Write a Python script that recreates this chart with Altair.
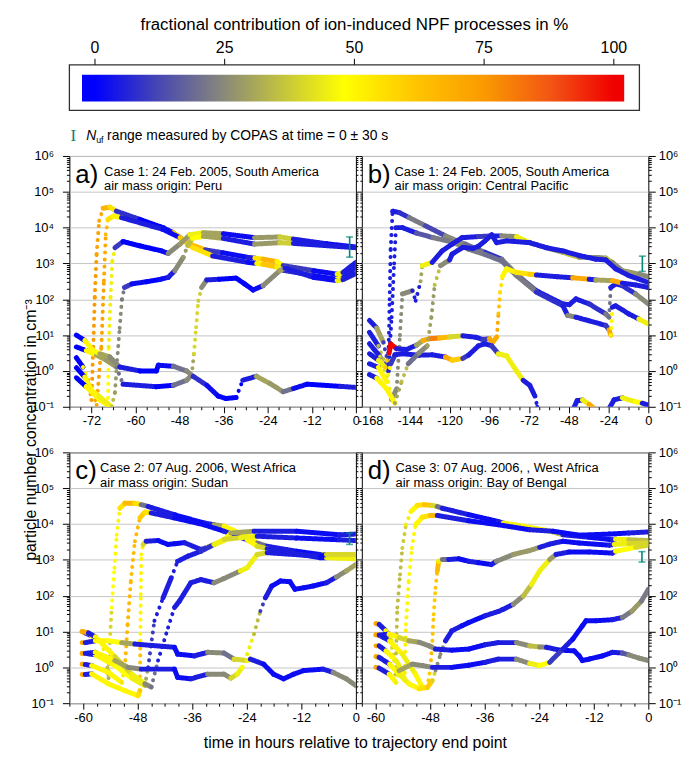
import altair as alt
import pandas as pd

# ---------------------------------------------------------------- colour ramp
# fractional contribution of ion-induced NPF processes (%)
PCT_STOPS = [0, 12, 25, 37, 48, 62, 75, 88, 100]
PCT_COLORS = ["#0000ff", "#4646b4", "#8a8a78", "#c8c83a", "#ffff00",
              "#ffc400", "#fa9a00", "#f25414", "#f00000"]
CBAR_TICKS = [0, 25, 50, 75, 100]
CBAR_DOMAIN = [-4.93, 104.93]
CBAR_SPAN = [-2.5, 102.0]

# ---------------------------------------------------------------- trajectories
# each point: (time in h, log10 N in cm^-3, ion-induced fraction in %)

# a) Case 1, air mass origin Peru
A1 = [(-76.1, 0.37, 0), (-74.3, 0.11, 50), (-72.9, -0.26, 72), (-72.0, -0.81, 75),
      (-71.5, 0.67, 75), (-71.1, 2.06, 75), (-70.6, 3.26, 72), (-69.9, 4.19, 70),
      (-68.8, 4.54, 68), (-67.0, 4.57, 55), (-65.2, 4.46, 8), (-58.8, 4.23, 0),
      (-52.5, 4.00, 2), (-49.7, 3.86, 60), (-45.2, 3.54, 65), (-41.0, 3.38, 10),
      (-36.3, 3.30, 2), (-29.4, 3.17, 5), (-27.5, 3.15, 55), (-25.3, 3.12, 68),
      (-21.5, 3.05, 50), (-19.8, 2.94, 10), (-11.5, 2.80, 2), (-5.1, 2.70, 45),
      (-3.5, 2.75, 5), (0.0, 3.03, 2)]
A2 = [(-76.1, 0.09, 0), (-73.8, -0.17, 50), (-71.5, -0.63, 70), (-70.6, -0.95, 72),
      (-69.3, 0.67, 72), (-68.6, 2.52, 70), (-68.1, 3.81, 65), (-67.5, 4.23, 55),
      (-66.1, 4.32, 50), (-63.8, 4.28, 5), (-52.5, 3.95, 2), (-47.9, 3.72, 60),
      (-44.3, 3.44, 55), (-39.0, 3.21, 5), (-29.4, 3.03, 2), (-27.0, 3.00, 50),
      (-25.3, 2.98, 62), (-21.5, 2.90, 45), (-19.8, 2.81, 8), (-11.5, 2.66, 2),
      (-5.1, 2.56, 48), (-3.5, 2.60, 5), (0.0, 2.89, 2)]
A3 = [(-76.1, -0.19, 0), (-73.4, -0.44, 50), (-69.7, -0.81, 50), (-67.5, -0.95, 48),
      (-67.3, 0.67, 45), (-66.8, 2.06, 45), (-66.3, 3.07, 45), (-65.6, 3.44, 10),
      (-63.4, 3.61, 0), (-58.8, 3.49, 0), (-52.9, 3.35, 2), (-51.1, 3.28, 25),
      (-47.9, 3.54, 28), (-45.2, 3.80, 45), (-41.5, 3.86, 30), (-36.1, 3.83, 2),
      (-27.6, 3.72, 28), (-20.7, 3.74, 38), (-17.0, 3.68, 5), (-8.0, 3.55, 2),
      (0.0, 3.46, 18)]
A4 = [(-73.4, -0.44, 50), (-70.0, -0.70, 45), (-66.5, -1.00, 35), (-65.6, -0.60, 28),
      (-65.0, 0.30, 25), (-64.3, 1.20, 25), (-63.7, 2.00, 22), (-63.0, 2.33, 10),
      (-61.0, 2.43, 2), (-57.0, 2.49, 0), (-53.5, 2.55, 2), (-51.1, 2.61, 5),
      (-49.3, 2.80, 25), (-47.0, 3.17, 28), (-45.8, 3.50, 35), (-44.5, 3.70, 48),
      (-41.5, 3.76, 30), (-36.1, 3.70, 5), (-27.6, 3.54, 28), (-20.7, 3.58, 38),
      (-17.0, 3.56, 5), (0.0, 3.44, 5)]
A5 = [(-76.1, 0.67, 0), (-73.4, 0.57, 50), (-70.6, 0.44, 30), (-67.9, 0.30, 28),
      (-65.2, 0.11, 20), (-63.4, -0.37, 5), (-54.3, -0.44, 0), (-49.7, -0.40, 20),
      (-46.1, -0.26, 25), (-44.7, -0.12, 30), (-44.1, 0.48, 40), (-43.5, 1.22, 40),
      (-42.9, 1.96, 38), (-42.0, 2.33, 25), (-40.6, 2.54, 5), (-37.2, 2.56, 0),
      (-32.6, 2.59, 0), (-30.3, 2.43, 0), (-28.0, 2.26, 2), (-25.3, 2.38, 25),
      (-20.7, 2.80, 30), (-19.3, 2.87, 5), (-11.5, 2.61, 2), (-5.1, 2.52, 45),
      (-3.5, 2.55, 5), (0.0, 2.72, 2)]
A6 = [(-76.1, 1.00, 0), (-73.8, 0.85, 50), (-71.5, 0.57, 48), (-69.7, 0.48, 30),
      (-67.0, 0.39, 25), (-64.3, 0.11, 5), (-58.8, 0.00, 0), (-54.3, 0.00, 0),
      (-53.8, 0.16, 2), (-49.7, 0.13, 20), (-46.1, 0.00, 25), (-44.3, -0.15, 8),
      (-40.6, -0.40, 2), (-37.5, -0.70, 0), (-35.4, -0.77, 0), (-32.6, -0.74, 0),
      (-30.8, -0.26, 5), (-27.1, -0.15, 30), (-23.4, -0.35, 28), (-19.8, -0.58, 20),
      (-17.0, -0.49, 2), (-13.3, -0.37, 0), (-4.2, -0.43, 5), (0.0, -0.46, 15)]

# b) Case 1, air mass origin Central Pacific
B1 = [(-168.4, 1.41, 5), (-164.0, 1.20, 30), (-160.0, 0.80, 10), (-157.5, 0.30, 5),
      (-156.8, 0.67, 5), (-156.2, 2.00, 5), (-155.6, 3.40, 5), (-154.4, 4.46, 5),
      (-150.4, 4.42, 8), (-144.4, 4.28, 22), (-134.5, 4.05, 12), (-122.5, 3.77, 25),
      (-110.5, 3.54, 20), (-98.6, 3.31, 8), (-88.6, 3.12, 22), (-79.6, 2.70, 18),
      (-67.6, 2.24, 5), (-51.6, 1.87, 5), (-47.7, 1.85, 5), (-43.7, 2.01, 5),
      (-35.7, 1.87, 8), (-25.7, 1.59, 22), (-23.7, 1.50, 20), (-22.7, 2.33, 5),
      (-19.7, 2.43, 5), (-15.7, 2.38, 8), (-7.7, 2.15, 25), (0.0, 1.87, 20)]
B2 = [(-168.4, 1.08, 5), (-163.0, 0.70, 35), (-159.0, 0.20, 15), (-157.0, 0.00, 5),
      (-155.0, 1.50, 5), (-153.5, 3.00, 5), (-152.4, 4.00, 5), (-148.5, 4.00, 5),
      (-140.0, 3.85, 15), (-130.0, 3.72, 22), (-118.5, 3.60, 25), (-108.6, 3.40, 22),
      (-98.6, 3.25, 20), (-88.6, 3.07, 20), (-79.6, 2.66, 22), (-67.6, 2.20, 8),
      (-51.6, 1.82, 5), (-48.7, 1.55, 25), (-43.7, 1.50, 5), (-35.7, 1.40, 5),
      (-25.7, 1.27, 10), (-23.7, 1.15, 70), (-22.7, 1.00, 50), (-21.7, 1.78, 5),
      (-19.7, 1.82, 5), (-11.7, 1.59, 5), (-5.7, 1.45, 45), (0.0, 1.31, 48)]
B3 = [(-168.4, 0.76, 5), (-162.0, 0.40, 40), (-157.0, -0.30, 45), (-155.0, -0.80, 25),
      (-152.0, -0.50, 25), (-150.0, 1.00, 25), (-148.5, 2.15, 25), (-142.5, 2.24, 5),
      (-140.5, 1.96, 5), (-137.5, 2.50, 30), (-136.5, 2.94, 45), (-130.5, 3.03, 5),
      (-124.5, 3.35, 5), (-118.5, 3.54, 5), (-112.5, 3.72, 5), (-102.6, 3.75, 10),
      (-94.6, 3.77, 5), (-88.6, 3.77, 25), (-79.6, 3.75, 45), (-71.6, 3.58, 25),
      (-61.6, 3.44, 28), (-51.6, 3.31, 35), (-41.7, 3.17, 25), (-31.7, 3.17, 25),
      (-25.7, 3.15, 35), (-21.7, 3.03, 25), (-15.7, 2.80, 28), (-5.7, 2.70, 25),
      (0.0, 2.63, 22)]
B4 = [(-168.4, 0.48, 5), (-163.0, 0.30, 45), (-159.0, 0.10, 60), (-156.5, 0.50, 100),
      (-155.5, 0.75, 100), (-152.0, 0.62, 5), (-146.0, 0.60, 5), (-140.0, 0.72, 30),
      (-136.0, 0.85, 70), (-132.0, 0.90, 80), (-126.0, 0.92, 65), (-120.0, 0.95, 40),
      (-112.0, 0.98, 5), (-104.0, 0.94, 5), (-100.0, 0.88, 10), (-96.0, 0.90, 70),
      (-94.0, 0.80, 70), (-91.5, 0.95, 70), (-90.5, 1.60, 62), (-89.5, 2.20, 55),
      (-88.0, 2.65, 50), (-85.6, 2.85, 50), (-79.6, 2.75, 55), (-71.6, 2.70, 60),
      (-67.6, 2.68, 5), (-55.0, 2.63, 5), (-45.7, 2.60, 70), (-35.7, 2.56, 5),
      (-31.7, 2.54, 30), (-21.7, 2.52, 70), (-15.7, 2.45, 5), (-7.7, 2.40, 5),
      (0.0, 2.33, 5)]
B5 = [(-168.4, 0.20, 5), (-163.0, 0.10, 50), (-158.0, -0.30, 50), (-155.5, 0.20, 10),
      (-153.0, 0.45, 5), (-148.5, 0.48, 5), (-138.5, 0.44, 5), (-130.5, 0.45, 5),
      (-122.5, 0.39, 70), (-118.5, 0.30, 60), (-112.0, 0.35, 10), (-108.6, 0.44, 5),
      (-102.6, 0.70, 5), (-98.6, 0.76, 5), (-94.6, 0.70, 10), (-90.6, 0.48, 45),
      (-85.6, 0.42, 45), (-79.6, 0.00, 45), (-75.6, -0.26, 5), (-71.6, -0.40, 5),
      (-68.5, -0.70, 5), (-67.0, -1.00, 5), (-64.0, -1.60, 5), (-48.0, -1.60, 5),
      (-45.7, -1.10, 5), (-43.0, -0.83, 5), (-39.7, -0.81, 45), (-35.7, -0.93, 70),
      (-32.7, -1.05, 70), (-30.0, -1.50, 5), (-26.0, -1.50, 5), (-23.7, -1.05, 5),
      (-20.7, -0.81, 5), (-15.7, -0.75, 45), (-7.7, -0.86, 48), (-3.7, -0.90, 5),
      (0.0, -0.95, 5)]
B6 = [(-168.4, -0.10, 5), (-164.0, -0.20, 50), (-158.0, -0.50, 50), (-153.0, -0.90, 30),
      (-149.0, -0.30, 35), (-145.0, 0.20, 20), (-138.5, 0.50, 25), (-133.5, 0.70, 30),
      (-131.0, 1.50, 28), (-129.0, 2.40, 35), (-125.5, 2.94, 25), (-120.0, 3.10, 5),
      (-118.5, 3.26, 5), (-112.0, 3.45, 5), (-106.0, 3.42, 5), (-102.6, 3.48, 5),
      (-98.6, 3.63, 5), (-94.6, 3.80, 5), (-91.6, 3.58, 5), (-85.6, 3.63, 5),
      (-71.6, 3.58, 5), (-61.6, 3.44, 5), (-51.6, 3.35, 5), (-41.7, 3.22, 5),
      (-31.7, 3.12, 5), (-25.7, 3.10, 5), (-19.7, 2.85, 5), (-11.7, 2.66, 5),
      (0.0, 2.47, 8)]

# c) Case 2, air mass origin Sudan
C1 = [(-60.2, 1.00, 70), (-59.5, 0.96, 5), (-58.1, 0.88, 50), (-55.9, 0.70, 45),
      (-54.8, 0.19, 35), (-54.4, -0.30, 32), (-54.1, 0.74, 40), (-53.7, 1.67, 48),
      (-53.1, 2.78, 50), (-52.6, 3.70, 50), (-51.9, 4.44, 55), (-50.8, 4.58, 65),
      (-48.6, 4.58, 55), (-47.2, 4.54, 20), (-45.7, 4.49, 5), (-39.9, 4.26, 2),
      (-33.4, 4.03, 5), (-31.2, 3.98, 30), (-29.0, 3.94, 50), (-23.9, 3.66, 50),
      (-21.7, 3.47, 20), (-19.5, 3.38, 5), (-13.0, 3.24, 2), (-7.9, 3.15, 5),
      (-7.2, 3.15, 40), (-3.6, 3.15, 30), (0.0, 3.10, 30)]
C2 = [(-60.2, 0.09, 70), (-59.5, 0.08, 5), (-58.1, 0.05, 50), (-54.4, -0.14, 50),
      (-51.5, -0.42, 55), (-50.8, 0.00, 65), (-50.2, 1.20, 65), (-49.5, 2.41, 65),
      (-48.6, 3.52, 65), (-47.5, 4.17, 60), (-46.4, 4.33, 55), (-45.0, 4.31, 5),
      (-39.9, 4.17, 2), (-33.4, 3.98, 2), (-29.0, 3.80, 5), (-23.9, 3.56, 50),
      (-21.7, 3.38, 40), (-19.5, 3.31, 5), (-7.9, 3.06, 2), (-6.5, 3.06, 45),
      (0.0, 3.03, 30)]
C3 = [(-60.2, -0.20, 70), (-59.5, -0.20, 5), (-58.1, -0.18, 50), (-54.4, -0.46, 50),
      (-50.8, -0.65, 50), (-47.9, -0.79, 55), (-47.5, -0.65, 62), (-47.4, 0.74, 50),
      (-47.3, 2.04, 50), (-47.2, 3.15, 50), (-46.8, 3.43, 40), (-46.1, 3.52, 5),
      (-43.5, 3.54, 2), (-41.3, 3.43, 2), (-39.9, 3.45, 2), (-37.7, 3.48, 5),
      (-34.1, 3.29, 8), (-32.6, 3.35, 45), (-29.0, 3.54, 50), (-27.5, 3.75, 30),
      (-22.4, 3.80, 5), (-13.0, 3.80, 2), (-3.6, 3.70, 5), (0.0, 3.72, 25)]
C4 = [(-60.2, 0.39, 70), (-59.5, 0.39, 5), (-57.3, 0.35, 50), (-53.0, 0.05, 48),
      (-49.3, -0.30, 45), (-46.4, -0.51, 30), (-45.7, 0.00, 10), (-44.3, 1.30, 5),
      (-42.4, 1.94, 5), (-40.6, 2.50, 5), (-39.2, 2.96, 5), (-37.0, 3.10, 5),
      (-34.1, 3.24, 8), (-31.2, 3.43, 45), (-29.0, 3.57, 40), (-25.4, 3.62, 45),
      (-21.7, 3.66, 5), (-13.0, 3.61, 2), (-3.6, 3.56, 5), (0.0, 3.54, 25)]
C5 = [(-60.2, 1.00, 70), (-58.8, 0.96, 5), (-57.3, 0.85, 50), (-53.0, 0.30, 40),
      (-49.3, -0.19, 45), (-46.4, -0.46, 25), (-45.0, -0.55, 20), (-43.5, 0.19, 5),
      (-41.3, 1.11, 5), (-39.9, 1.67, 5), (-38.8, 1.85, 5), (-36.3, 2.36, 5),
      (-34.1, 2.45, 5), (-31.2, 2.36, 25), (-29.0, 2.48, 25), (-25.4, 2.69, 45),
      (-23.9, 2.78, 45), (-21.7, 3.15, 40), (-19.5, 3.20, 5), (-7.9, 3.10, 2),
      (-6.5, 3.15, 40), (0.0, 3.15, 30)]
C6 = [(-60.2, 0.39, 70), (-59.5, 0.39, 5), (-57.3, 0.42, 50), (-53.0, 0.19, 30),
      (-50.1, 0.00, 25), (-47.2, -0.05, 5), (-39.9, -0.05, 2), (-39.2, -0.28, 2),
      (-36.3, -0.32, 5), (-32.6, -0.19, 25), (-29.0, -0.19, 25), (-27.5, -0.30, 40),
      (-26.1, -0.19, 45), (-25.0, 0.00, 48), (-23.9, 0.37, 45), (-22.4, 0.93, 35),
      (-21.0, 1.57, 10), (-19.9, 1.94, 5), (-18.5, 2.27, 2), (-16.6, 2.41, 2),
      (-14.5, 2.39, 2), (-13.4, 2.18, 2), (-11.5, 2.22, 2), (-9.4, 2.27, 2),
      (-6.5, 2.36, 5), (-4.3, 2.52, 25), (-2.1, 2.69, 30), (0.0, 2.87, 10)]
C7 = [(-60.2, 0.69, 70), (-59.5, 0.69, 5), (-57.3, 0.74, 50), (-54.4, 0.74, 48),
      (-51.5, 0.69, 30), (-48.6, 0.65, 5), (-39.9, 0.56, 2), (-39.2, 0.37, 2),
      (-35.5, 0.32, 5), (-32.6, 0.42, 25), (-29.0, 0.40, 20), (-26.8, 0.23, 40),
      (-23.9, 0.19, 45), (-23.2, 0.23, 5), (-20.3, 0.09, 2), (-18.1, -0.19, 2),
      (-15.9, -0.32, 2), (-13.7, -0.19, 2), (-11.5, -0.09, 2), (-7.2, -0.05, 5),
      (-5.0, -0.14, 25), (-2.1, -0.32, 25), (0.0, -0.51, 15)]

# d) Case 3, air mass origin Bay of Bengal
D1 = [(-59.9, 1.22, 70), (-59.2, 1.20, 5), (-57.7, 1.02, 50), (-56.6, 0.74, 40),
      (-55.9, 0.19, 35), (-55.6, -0.20, 35), (-55.4, 0.74, 35), (-55.2, 1.67, 35),
      (-54.6, 2.59, 35), (-54.1, 3.33, 38), (-53.3, 3.98, 45), (-52.2, 4.35, 50),
      (-50.8, 4.52, 55), (-49.3, 4.54, 62), (-47.5, 4.52, 40), (-46.4, 4.49, 20),
      (-45.3, 4.44, 5), (-39.5, 4.26, 2), (-33.0, 4.07, 5), (-31.9, 4.03, 45),
      (-27.5, 3.94, 50), (-23.2, 3.84, 50), (-21.0, 3.78, 35), (-18.8, 3.70, 5),
      (-13.0, 3.63, 2), (-7.9, 3.56, 5), (-7.2, 3.58, 45), (-4.3, 3.56, 35),
      (0.0, 3.54, 28)]
D2 = [(-59.9, 0.60, 70), (-59.2, 0.60, 5), (-57.7, 0.46, 50), (-55.5, 0.19, 45),
      (-54.1, -0.09, 50), (-53.6, -0.35, 52), (-53.3, 1.20, 50), (-52.7, 2.41, 50),
      (-52.0, 3.33, 50), (-51.2, 3.98, 50), (-49.7, 4.19, 55), (-47.9, 4.24, 65),
      (-46.4, 4.24, 5), (-39.5, 4.09, 2), (-33.0, 3.98, 2), (-26.1, 3.84, 5),
      (-21.0, 3.80, 2), (-15.2, 3.69, 2), (-8.6, 3.72, 2), (-4.3, 3.75, 5),
      (0.0, 3.78, 5)]
D3 = [(-59.9, 0.91, 70), (-59.2, 0.90, 5), (-56.9, 0.74, 50), (-54.1, 0.37, 45),
      (-51.2, -0.19, 50), (-49.7, -0.56, 55), (-48.6, -0.56, 60), (-47.9, 0.00, 65),
      (-47.5, 0.74, 62), (-47.2, 1.48, 60), (-46.8, 2.22, 62), (-46.4, 2.69, 65),
      (-46.1, 2.96, 45), (-45.3, 3.01, 20), (-43.9, 3.01, 5), (-41.7, 3.03, 2),
      (-39.5, 2.96, 5), (-37.3, 2.92, 2), (-34.5, 2.87, 5), (-33.4, 2.96, 25),
      (-29.7, 3.15, 28), (-26.1, 3.26, 28), (-23.9, 3.35, 5), (-21.7, 3.44, 5),
      (-18.8, 3.52, 2), (-15.2, 3.47, 2), (-8.6, 3.41, 5), (-7.5, 3.43, 45),
      (-4.3, 3.45, 40), (0.0, 3.47, 35)]
D4 = [(-59.9, 0.30, 70), (-59.2, 0.28, 5), (-56.9, 0.09, 50), (-54.8, -0.19, 45),
      (-52.6, -0.46, 50), (-50.4, -0.60, 55), (-48.6, -0.56, 60), (-47.5, -0.37, 40),
      (-46.8, -0.09, 25), (-45.7, 0.37, 25), (-44.6, 0.74, 5), (-43.2, 1.02, 5),
      (-41.0, 1.16, 2), (-39.5, 1.25, 2), (-35.9, 1.44, 5), (-33.0, 1.56, 5),
      (-31.9, 1.62, 5), (-29.7, 1.76, 25), (-27.5, 1.99, 35), (-25.7, 2.31, 45),
      (-23.9, 2.69, 45), (-21.7, 3.01, 28), (-20.3, 3.15, 5), (-17.4, 3.22, 2),
      (-13.0, 3.22, 2), (-7.9, 3.19, 5), (-7.2, 3.24, 48), (-2.8, 3.35, 40),
      (0.0, 3.41, 35)]
D5 = [(-59.9, 0.91, 70), (-59.2, 0.90, 5), (-57.0, 0.93, 50), (-54.8, 0.83, 40),
      (-52.6, 0.74, 30), (-50.4, 0.70, 25), (-48.2, 0.60, 25), (-46.8, 0.51, 5),
      (-43.2, 0.48, 2), (-39.5, 0.51, 2), (-35.9, 0.63, 5), (-33.0, 0.69, 5),
      (-29.0, 0.69, 25), (-26.1, 0.60, 35), (-23.9, 0.57, 25), (-22.4, 0.56, 5),
      (-19.5, 0.48, 2), (-16.3, 0.46, 2), (-15.2, 0.32, 2), (-14.5, 0.19, 2),
      (-13.0, 0.23, 2), (-10.1, 0.32, 2), (-7.9, 0.42, 5), (-5.7, 0.40, 15),
      (-4.3, 0.35, 25), (-2.1, 0.26, 25), (0.0, 0.19, 22)]
D6 = [(-59.9, 0.00, 70), (-59.2, -0.02, 5), (-57.0, -0.19, 50), (-55.5, -0.42, 45),
      (-54.8, -0.09, 30), (-51.9, 0.09, 25), (-49.7, 0.05, 25), (-47.5, 0.00, 5),
      (-43.2, 0.00, 2), (-39.5, 0.06, 2), (-35.9, 0.14, 5), (-33.0, 0.23, 5),
      (-29.0, 0.23, 25), (-26.1, 0.11, 45), (-23.9, 0.05, 48), (-21.7, 0.14, 10),
      (-18.8, 0.51, 5), (-16.6, 0.79, 2), (-14.5, 1.16, 2), (-13.7, 1.30, 2),
      (-11.5, 1.30, 2), (-7.9, 1.33, 5), (-5.7, 1.39, 22), (-3.6, 1.57, 28),
      (-1.5, 1.85, 22), (0.0, 2.18, 18)]

# COPAS N_uf range near time 0: (time in h, min, max) in cm^-3
BAR_A = (-1.7, 1.5e3, 5.5e3)
BAR_B = (-3.6, 6.0e2, 1.6e3)
BAR_C = (-1.4, 2.7e3, 5.6e3)
BAR_D = (-1.4, 8.7e2, 1.7e3)

PANEL_TEXT = {
    "a": ("a)", "Case 1: 24 Feb. 2005, South America", "air mass origin: Peru"),
    "b": ("b)", "Case 1: 24 Feb. 2005, South America", "air mass origin: Central Pacific"),
    "c": ("c)", "Case 2: 07 Aug. 2006, West Africa", "air mass origin: Sudan"),
    "d": ("d)", "Case 3: 07 Aug. 2006, , West Africa", "air mass origin: Bay of Bengal"),
}

# ---------------------------------------------------------------- layout
W, H = 289, 253
CB_W = 575
FONT = "Liberation Sans"
TEAL = "#00877a"

PANELS = {
    "a": dict(dom=[-78, 0], step=3, major=12, curves=[A1, A2, A3, A4, A5, A6],
              bar=BAR_A, yorient="left", text_dx=35),
    "b": dict(dom=[-173, 0], step=6, major=24, curves=[B1, B2, B3, B4, B5, B6],
              bar=BAR_B, yorient="right", text_dx=33),
    "c": dict(dom=[-63, 0], step=3, major=12, curves=[C1, C2, C3, C4, C5, C6, C7],
              bar=BAR_C, yorient="left", text_dx=31),
    "d": dict(dom=[-63, 0], step=3, major=12, curves=[D1, D2, D3, D4, D5, D6],
              bar=BAR_D, yorient="right", text_dx=34),
}

PX_PER_DECADE = H / 7.0

# segment table: one rule per pair of consecutive points, coloured by the first
seg_rows = []
for key, spec in PANELS.items():
    px_per_h = W / (spec["dom"][1] - spec["dom"][0])
    for ci, curve in enumerate(spec["curves"]):
        for i in range(len(curve) - 1):
            t0, g0, p0 = curve[i]
            t1, g1, p1 = curve[i + 1]
            dx = abs(t1 - t0) * px_per_h
            dy = abs(g1 - g0) * PX_PER_DECADE
            style = "dotted" if (dy > 2.5 * dx and dy > 10) else "solid"
            seg_rows.append(dict(panel=key, curve=ci, i=i, t=t0, t2=t1,
                                 n=10 ** g0, n2=10 ** g1, p=p0, style=style))
segs = pd.DataFrame(seg_rows)

color_scale = alt.Scale(domain=PCT_STOPS, range=PCT_COLORS, interpolate="rgb", clamp=True)

Y_TICKS = [m * 10.0 ** e for e in range(-1, 6) for m in range(1, 10)] + [1e6]
IS_DECADE = "abs(log(datum.value)/LN10 - round(log(datum.value)/LN10)) < 1e-6"
SUP = "['\u207b\u00b9','\u2070','\u00b9','\u00b2','\u00b3','\u2074','\u2075','\u2076']"
Y_LABEL = f"({IS_DECADE}) ? '10' + {SUP}[round(log(datum.value)/LN10) + 1] : ''"


def text_layer(s, x, y, size, color="black", font=FONT, align="left", **kw):
    return alt.Chart(pd.DataFrame({"s": [s]})).mark_text(
        align=align, baseline="alphabetic", fontSize=size, color=color, font=font, **kw
    ).encode(text="s:N", x=alt.value(x), y=alt.value(y))


def colorbar_layers():
    """Colour bar with its ticks, labels, title and the COPAS legend line,
    drawn above panel a on a 0-100 % scale of its own."""
    span = CBAR_DOMAIN[1] - CBAR_DOMAIN[0]
    dom = [CBAR_DOMAIN[0], CBAR_DOMAIN[0] + span * W / CB_W]
    xs = alt.Scale(domain=dom, nice=False, zero=False)
    gspan = CBAR_SPAN[1] - CBAR_SPAN[0]
    gradient = alt.Gradient(
        gradient="linear", x1=0, x2=1, y1=0, y2=0,
        stops=[alt.GradientStop(offset=(v - CBAR_SPAN[0]) / gspan, color=c)
               for v, c in zip(PCT_STOPS, PCT_COLORS)],
    )
    rect = alt.Chart(pd.DataFrame({"lo": [CBAR_SPAN[0]], "hi": [CBAR_SPAN[1]]})).mark_rect(
        fill=gradient).encode(x=alt.X("lo:Q", scale=xs, axis=None), x2="hi:Q",
                              y=alt.value(-82), y2=alt.value(-55))
    frame = alt.Chart(pd.DataFrame({"lo": [CBAR_DOMAIN[0]], "hi": [CBAR_DOMAIN[1]]})).mark_rect(
        fill="transparent", stroke="#303030", strokeWidth=1.3).encode(
        x=alt.X("lo:Q", scale=xs, axis=None), x2="hi:Q", y=alt.value(-92), y2=alt.value(-46))
    tick_df = pd.DataFrame({"v": CBAR_TICKS, "s": [str(v) for v in CBAR_TICKS]})
    ticks = alt.Chart(tick_df).mark_rule(color="black", strokeWidth=1).encode(
        x=alt.X("v:Q", scale=xs, axis=None), y=alt.value(-98), y2=alt.value(-92))
    labels = alt.Chart(tick_df).mark_text(fontSize=16, font=FONT, color="black",
                                          baseline="alphabetic").encode(
        x=alt.X("v:Q", scale=xs, axis=None), y=alt.value(-104), text="s:N")
    title = alt.Chart(pd.DataFrame({"v": [50], "s": ["fractional contribution of ion-induced NPF processes in %"]})).mark_text(
        fontSize=17, font=FONT, color="black", baseline="alphabetic").encode(
        x=alt.X("v:Q", scale=xs, axis=None), y=alt.value(-127), text="s:N")
    legend = [
        text_layer("I", 1, -15, 17, color=TEAL, font="Liberation Serif"),
        text_layer("N", 17, -16, 14, fontStyle="italic"),
        text_layer("uf", 27, -13, 9),
        text_layer("range measured by COPAS at time = 0 \u00b1 30 s", 38, -16, 14),
    ]
    return [rect, frame, ticks, labels, title] + legend


def panel(key):
    spec = PANELS[key]
    lo, hi = spec["dom"]
    first = -(-lo // spec["step"]) * spec["step"]
    xvals = list(range(int(first), 1, spec["step"]))
    major_test = f"datum.value % {spec['major']} == 0"

    xtitle = None
    xkw = {}
    if key == "c":
        xtitle = "time in hours relative to trajectory end point"
        xkw = dict(titleX=288, titleY=40, titleAlign="center", titleBaseline="middle",
                   titleFontSize=16, titleFont=FONT, titleFontWeight="normal",
                   titleColor="black")
    xaxis = alt.Axis(values=xvals, labelExpr=f"{major_test} ? '' + datum.value : ''",
                     tickSize={"condition": {"test": major_test, "value": 6}, "value": 3},
                     tickColor="black", labelColor="black", labelFontSize=13, labelFont=FONT,
                     labelFlush=False, labelOverlap=False, labelPadding=2, domain=False,
                     grid=False, title=xtitle, **xkw)

    ytitle = None
    ykw = {}
    if key == "a":
        ytitle = "particle number concentration in cm\u207b\u00b3"
        ykw = dict(titleX=-39, titleY=276, titleAngle=270, titleAlign="center",
                   titleBaseline="middle", titleFontSize=16, titleFont=FONT,
                   titleFontWeight="normal", titleColor="black")
    yaxis = alt.Axis(orient=spec["yorient"], values=Y_TICKS, labelExpr=Y_LABEL,
                     tickSize={"condition": {"test": IS_DECADE, "value": 7}, "value": 3},
                     gridOpacity={"condition": {"test": IS_DECADE, "value": 1}, "value": 0},
                     grid=True, gridColor="#c4c4c4", gridWidth=1,
                     tickColor="black", labelColor="black", labelFontSize=13, labelFont=FONT,
                     labelPadding=3 if spec["yorient"] == "right" else 9,
                     labelOverlap=False, labelFlush=False, domain=False,
                     title=ytitle, **ykw)
    # unlabelled ticks along the inner frame edge
    mirror_axis = alt.Axis(orient="right" if spec["yorient"] == "left" else "left",
                           values=Y_TICKS, labels=False, grid=False, domain=False,
                           title=None, tickColor="black",
                           tickSize={"condition": {"test": IS_DECADE, "value": 3}, "value": 2})

    xscale = alt.Scale(domain=spec["dom"], nice=False, zero=False)
    yscale = alt.Scale(type="log", domain=[0.1, 1e6], nice=False)
    x = alt.X("t:Q", scale=xscale, axis=xaxis)
    x_plain = alt.X("t:Q", scale=xscale, axis=None)
    y = alt.Y("n:Q", scale=yscale, axis=yaxis)
    y_mirror = alt.Y("n:Q", scale=yscale, axis=mirror_axis)
    y_plain = alt.Y("n:Q", scale=yscale, axis=None)

    lines = alt.Chart(segs[segs.panel == key]).mark_rule(strokeCap="round", clip=True).encode(
        x=x, x2="t2:Q", y=y, y2="n2:Q",
        color=alt.Color("p:Q", scale=color_scale, legend=None),
        strokeDash=alt.StrokeDash("style:N", scale=alt.Scale(domain=["solid", "dotted"],
                                  range=[[1, 0], [0.1, 7]]), legend=None),
        strokeWidth=alt.StrokeWidth("style:N", scale=alt.Scale(domain=["solid", "dotted"],
                                    range=[5, 4]), legend=None),
    )

    bt, blo, bhi = spec["bar"]
    bar_df = pd.DataFrame({"t": [bt], "n": [blo], "n2": [bhi]})
    cap_df = pd.DataFrame({"t": [bt, bt], "n": [blo, bhi]})
    bar = alt.Chart(bar_df).mark_rule(color=TEAL, strokeWidth=1.6).encode(
        x=x_plain, y=y_mirror, y2="n2:Q")
    caps = alt.Chart(cap_df).mark_tick(color=TEAL, orient="horizontal", size=7,
                                       thickness=1.6).encode(x=x_plain, y=y_plain)

    letter, line1, line2 = PANEL_TEXT[key]
    dx = spec["text_dx"]
    texts = [text_layer(letter, 6, 27, 26), text_layer(line1, dx, 20, 13),
             text_layer(line2, dx, 34.5, 13)]

    layers = [lines, bar, caps] + texts
    if key == "a":
        layers += colorbar_layers()
    return alt.layer(*layers).resolve_scale(x="independent", y="independent").properties(
        width=W, height=H)


chart = alt.concat(
    panel("a"), panel("b"), panel("c"), panel("d"),
    columns=2, spacing={"row": 46, "column": 6}, bounds="flush",
).properties(
    padding={"left": 22, "top": 12, "right": 3, "bottom": 8}
).configure(font=FONT).configure_view(stroke="black", strokeWidth=1)

chart.save("out.html", embed_options={"renderer": "svg", "actions": False})
